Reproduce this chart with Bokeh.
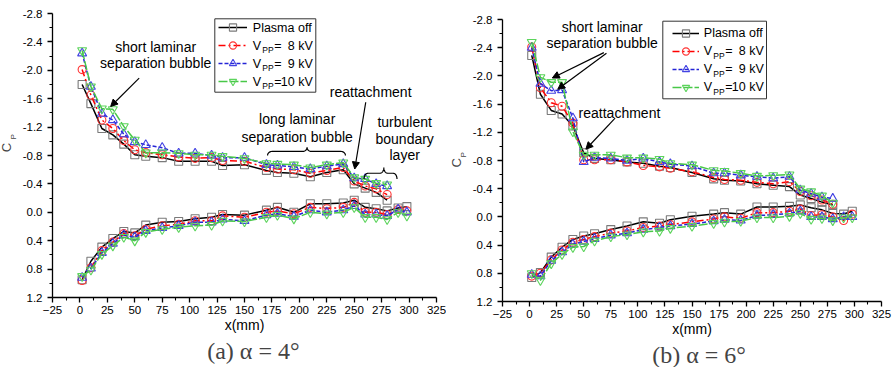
import numpy as np
from bokeh.plotting import figure
from bokeh.models import (Range1d, FixedTicker, NumeralTickFormatter, Legend, LegendItem,
                          BoxAnnotation, Label, Arrow, NormalHead, Title)
from bokeh.layouts import row, column
from bokeh.core.properties import value
from bokeh.embed import file_html
from bokeh.resources import INLINE

# ---------------- data ----------------
x_upper = [2, 10, 20, 30, 40, 50, 60, 75, 90, 105, 120, 130, 150, 170, 180, 195, 210, 225, 240, 250, 260, 270, 280]
x_lower = [2, 10, 20, 30, 40, 50, 60, 75, 90, 105, 120, 130, 150, 170, 180, 195, 210, 225, 240, 250, 260, 270, 280, 290, 298]

# alpha = 4 deg
off_up_4 = [-1.80, -1.53, -1.18, -1.09, -0.96, -0.81, -0.79, -0.77, -0.72, -0.72, -0.72, -0.66, -0.67, -0.59, -0.56, -0.55, -0.50, -0.56, -0.60, -0.40, -0.34, -0.28, -0.17]
kv8_up_4 = [-2.01, -1.65, -1.30, -1.18, -1.01, -0.88, -0.84, -0.81, -0.78, -0.76, -0.77, -0.73, -0.72, -0.63, -0.61, -0.60, -0.55, -0.59, -0.63, -0.44, -0.37, -0.33, -0.25]
kv9_up_4 = [-2.24, -1.77, -1.39, -1.30, -1.10, -0.99, -0.95, -0.91, -0.83, -0.83, -0.80, -0.77, -0.77, -0.67, -0.66, -0.64, -0.61, -0.65, -0.68, -0.48, -0.47, -0.40, -0.37]
kv10_up_4 = [-2.28, -1.77, -1.46, -1.45, -1.21, -1.02, -0.84, -0.84, -0.83, -0.81, -0.81, -0.79, -0.76, -0.69, -0.68, -0.67, -0.63, -0.67, -0.70, -0.49, -0.47, -0.41, -0.39]
off_lo_4 = [0.95, 0.69, 0.49, 0.37, 0.27, 0.29, 0.18, 0.14, 0.13, 0.09, 0.07, 0.03, 0.04, -0.03, -0.07, 0.00, -0.12, -0.12, -0.13, -0.17, -0.07, -0.05, -0.02, -0.06, -0.08]
kv8_lo_4 = [0.96, 0.78, 0.54, 0.42, 0.30, 0.33, 0.24, 0.19, 0.17, 0.12, 0.12, 0.05, 0.07, 0.00, -0.02, 0.02, -0.07, -0.05, -0.07, -0.14, 0.00, 0.00, 0.03, -0.04, -0.02]
kv9_lo_4 = [0.92, 0.79, 0.57, 0.44, 0.32, 0.35, 0.26, 0.22, 0.19, 0.14, 0.14, 0.10, 0.12, 0.04, 0.02, 0.06, -0.03, 0.00, -0.03, -0.09, 0.03, 0.03, 0.05, -0.04, 0.00]
kv10_lo_4 = [0.90, 0.81, 0.59, 0.47, 0.35, 0.40, 0.28, 0.24, 0.21, 0.19, 0.18, 0.12, 0.13, 0.07, 0.04, 0.09, 0.00, 0.02, 0.00, -0.07, 0.07, 0.07, 0.10, 0.00, 0.05]

# alpha = 6 deg
off_up_6 = [-2.29, -1.74, -1.51, -1.46, -1.29, -0.91, -0.83, -0.81, -0.78, -0.76, -0.72, -0.70, -0.63, -0.54, -0.52, -0.51, -0.47, -0.45, -0.43, -0.31, -0.26, -0.21, -0.17]
kv8_up_6 = [-2.41, -1.83, -1.62, -1.57, -1.33, -0.81, -0.81, -0.81, -0.78, -0.73, -0.71, -0.69, -0.64, -0.56, -0.53, -0.52, -0.49, -0.47, -0.50, -0.36, -0.30, -0.24, -0.18]
kv9_up_6 = [-2.40, -1.89, -1.79, -1.80, -1.40, -0.78, -0.84, -0.83, -0.80, -0.83, -0.78, -0.75, -0.72, -0.62, -0.62, -0.59, -0.57, -0.55, -0.57, -0.38, -0.33, -0.28, -0.26]
kv10_up_6 = [-2.48, -1.98, -1.91, -1.91, -1.21, -0.88, -0.88, -0.88, -0.84, -0.84, -0.82, -0.76, -0.74, -0.66, -0.65, -0.62, -0.58, -0.59, -0.60, -0.40, -0.36, -0.30, -0.20]
off_lo_6 = [0.86, 0.79, 0.57, 0.43, 0.32, 0.27, 0.24, 0.18, 0.13, 0.07, 0.09, 0.04, -0.01, -0.04, -0.06, -0.04, -0.14, -0.14, -0.15, -0.17, -0.13, -0.10, -0.05, -0.04, -0.08]
kv8_lo_6 = [0.84, 0.80, 0.61, 0.47, 0.36, 0.32, 0.28, 0.23, 0.20, 0.15, 0.13, 0.11, 0.07, 0.03, 0.00, 0.02, -0.06, -0.06, -0.08, -0.11, -0.02, -0.03, 0.00, 0.05, -0.04]
kv9_lo_6 = [0.82, 0.84, 0.62, 0.50, 0.39, 0.35, 0.31, 0.26, 0.23, 0.18, 0.15, 0.13, 0.10, 0.06, 0.04, 0.05, -0.02, -0.03, -0.05, -0.08, 0.00, 0.00, 0.03, 0.00, 0.00]
kv10_lo_6 = [0.80, 0.90, 0.66, 0.53, 0.43, 0.42, 0.34, 0.28, 0.25, 0.21, 0.20, 0.16, 0.13, 0.09, 0.07, 0.06, 0.01, 0.01, -0.01, -0.05, 0.03, 0.02, 0.05, 0.01, 0.01]

legend_first = "Plasma off"
legend_values = ["8 kV", "9 kV", "10 kV"]
x_ticks = [-25, 0, 25, 50, 75, 100, 125, 150, 175, 200, 225, 250, 275, 300, 325]
y_ticks = [-2.8, -2.4, -2.0, -1.6, -1.2, -0.8, -0.4, 0.0, 0.4, 0.8, 1.2]

# ---------------- style ----------------
SANS = "Liberation Sans"
SERIF = "Liberation Serif"
line_colors = ["#000000", "#ff0000", "#2424d6", "#48c848"]
line_dashes = ["solid", "7 3 2 3", "4 2", "9 2"]
markers = ["square", "circle", "triangle", "inverted_triangle"]
marker_colors = ["#7a7a7a", "#ff3333", "#4242e2", "#5cd45c"]
marker_sizes = [8, 8, 9, 9]

FIG_H = 367


def brace_path(x0, x1, xm, y_end, y_tip, r):
    t = np.linspace(0, np.pi / 2, 12)
    y_mid = (y_end + y_tip) / 2
    xs = list(x0 + r * (1 - np.cos(t))) + list(xm - r + r * np.sin(t))
    ys = list(y_end + (y_mid - y_end) * np.sin(t)) + list(y_mid + (y_tip - y_mid) * (1 - np.cos(t)))
    tr = t[::-1]
    xs += list(xm + r - r * np.sin(tr)) + list(x1 - r * (1 - np.cos(tr)))
    ys += list(y_mid + (y_tip - y_mid) * (1 - np.cos(tr))) + list(y_end + (y_mid - y_end) * np.sin(tr))
    return xs, ys


def make_panel(page_x0, width, bl, br, bt, bb, ups, los, cfg):
    frame_left = page_x0 + bl
    frame_top = bt
    frame_h = FIG_H - bt - bb
    frame_bottom = frame_top + frame_h

    def sx(px):
        return px - frame_left

    def sy(py):
        return frame_h - (py - frame_top)

    p = figure(width=width, height=FIG_H, x_range=Range1d(-25, 325), y_range=Range1d(1.2, -2.8),
               output_backend="svg", toolbar_location=None, tools="", title=None,
               min_border_left=bl, min_border_right=br, min_border_top=bt, min_border_bottom=bb)
    p.outline_line_color = None
    p.xgrid.visible = False
    p.ygrid.visible = False
    p.background_fill_color = "white"
    p.border_fill_color = "white"

    x_minor = [v + 12.5 for v in x_ticks[:-1]]
    y_minor = [round(v + 0.2, 2) for v in y_ticks[:-1]]
    p.xaxis.ticker = FixedTicker(ticks=x_ticks, minor_ticks=x_minor)
    p.yaxis.ticker = FixedTicker(ticks=y_ticks, minor_ticks=y_minor)
    p.yaxis.formatter = NumeralTickFormatter(format="0.0")
    for ax in (p.xaxis[0], p.yaxis[0]):
        ax.axis_line_width = 1.3
        ax.axis_line_color = "black"
        ax.major_tick_out = 5
        ax.major_tick_in = 0
        ax.minor_tick_out = 3
        ax.minor_tick_in = 0
        ax.major_tick_line_width = 1.3
        ax.minor_tick_line_width = 1.1
        ax.major_tick_line_color = "black"
        ax.minor_tick_line_color = "black"
        ax.major_label_text_font = SANS
        ax.major_label_text_font_size = "11.5px"
        ax.major_label_text_color = "black"
    p.xaxis.major_label_standoff = 3
    p.yaxis.major_label_standoff = 5
    p.xaxis.axis_label = "x(mm)"
    p.xaxis.axis_label_text_font = SANS
    p.xaxis.axis_label_text_font_size = "14px"
    p.xaxis.axis_label_text_font_style = "normal"
    p.xaxis.axis_label_text_color = "black"
    p.xaxis.axis_label_standoff = 0

    items = []
    for i in range(4):
        kw = dict(line_color=line_colors[i], line_width=1.5, line_dash=line_dashes[i])
        l_up = p.line(x_upper, ups[i], **kw)
        p.line(x_lower, los[i], **kw)
        mk = dict(marker=markers[i], size=marker_sizes[i], line_color=marker_colors[i],
                  line_width=1.1, fill_alpha=0)
        s_up = p.scatter(x_upper, ups[i], **mk)
        p.scatter(x_lower, los[i], **mk)
        items.append(LegendItem(label=value(" "), renderers=[l_up, s_up]))

    bx0, by0, bx1, by1 = cfg["box"]
    p.add_layout(BoxAnnotation(left=sx(bx0), right=sx(bx1), top=sy(by0), bottom=sy(by1),
                               left_units="screen", right_units="screen",
                               top_units="screen", bottom_units="screen",
                               fill_color="white", fill_alpha=1.0,
                               line_color="#333333", line_width=1, line_alpha=1.0))
    gx, gw, rtop, pitch = cfg["leg"]
    leg = Legend(items=items, location=(sx(gx), sy(rtop + 4 * pitch)), orientation="vertical",
                 padding=0, spacing=0, margin=0, glyph_height=pitch, glyph_width=gw,
                 label_height=pitch, label_width=1, label_standoff=0,
                 label_text_font_size="2px", border_line_color=None,
                 background_fill_alpha=0)
    p.add_layout(leg)

    tx = cfg["text_x"]
    centers = [rtop + pitch / 2 + k * pitch for k in range(4)]

    def lab(x, y, text, size, align="left", baseline="middle", units="screen"):
        p.add_layout(Label(x=x, y=y, x_units=units, y_units=units, text=text, text_font=SANS,
                           text_font_size=size, text_align=align, text_baseline=baseline,
                           text_color="black"))

    lab(sx(tx), sy(centers[0]), legend_first, "12.5px")
    for k, v in enumerate(legend_values):
        c = centers[k + 1]
        lab(sx(tx), sy(c), "V", "12.5px")
        lab(sx(tx + 9.5), sy(c + 4.5), "PP", "8.5px")
        lab(sx(tx + 21.5), sy(c), "=", "12.5px")
        lab(sx(tx + 60), sy(c), v, "12.5px", align="right")

    # y-axis label C_P (two stacked titles in the left panel)
    c_bottom, p_bottom = cfg["cp"]
    p.add_layout(Title(text="P", text_font=SANS, text_font_size="8px", text_font_style="normal",
                       align="left", vertical_align="middle", standoff=1.6,
                       offset=frame_bottom - p_bottom), "left")
    p.add_layout(Title(text="C", text_font=SANS, text_font_size="13px", text_font_style="normal",
                       align="left", vertical_align="bottom", standoff=-14.8,
                       offset=frame_bottom - c_bottom), "left")

    # caption below the axis
    p.add_layout(Title(text=cfg["caption"], align="left", offset=cfg["cap_x"] - frame_left,
                       text_font=SERIF, text_font_size="24px", text_font_style="normal",
                       standoff=0), "below")

    for (x, y, text) in cfg["notes"]:
        lab(x, y, text, "14px", align="center", units="data")
    for (x0, y0, x1, y1) in cfg["arrows"]:
        p.add_layout(Arrow(end=NormalHead(size=7, fill_color="black", line_color="black", line_width=1),
                           x_start=x0, y_start=y0, x_end=x1, y_end=y1,
                           line_color="black", line_width=1.2))
    for b in cfg["braces"]:
        bxs, bys = brace_path(*b)
        p.line(bxs, bys, line_color="black", line_width=1.2)
    return p


cfg4 = dict(
    box=(214.3, 18.3, 315.3, 91.7),
    leg=(218, 29, 18, 18),
    text_x=252.3,
    cp=(151.7, 139),
    caption="(a) \u03b1 = 4\u00b0",
    cap_x=206.7,
    notes=[(69, -2.325, "short laminar"), (69, -2.10, "separation bubble"),
           (265, -1.70, "reattachment"),
           (198, -1.315, "long laminar"), (198, -1.065, "separation bubble"),
           (296, -1.27, "turbulent"), (296, -1.03, "boundary"), (296, -0.81, "layer")],
    arrows=[(54, -1.89, 28, -1.49), (260.5, -1.55, 250.5, -0.61)],
    braces=[(171, 242, 207, -0.80, -0.914, 4), (259, 289, 277, -0.47, -0.63, 3.5)],
)

cfg6 = dict(
    box=(662.3, 20.7, 766, 98.3),
    leg=(671.7, 27, 23.5, 18),
    text_x=703.3,
    cp=(167, 157),
    caption="(b) \u03b1 = 6\u00b0",
    cap_x=651.7,
    notes=[(67, -2.695, "short laminar"), (67, -2.46, "separation bubble"),
           (83, -1.47, "reattachment")],
    arrows=[(68.6, -2.33, 21, -1.97), (71, -2.32, 26, -1.81), (79, -1.40, 52, -0.96)],
    braces=[],
)

p1 = make_panel(0, 446, 52, 10, 13, 70,
                [off_up_4, kv8_up_4, kv9_up_4, kv10_up_4],
                [off_lo_4, kv8_lo_4, kv9_lo_4, kv10_lo_4], cfg4)
p2 = make_panel(446, 447, 56, 12, 19, 66,
                [off_up_6, kv8_up_6, kv9_up_6, kv10_up_6],
                [off_lo_6, kv8_lo_6, kv9_lo_6, kv10_lo_6], cfg6)

layout = row(column(p1), column(p2))
open("out.html", "w").write(file_html(layout, INLINE))
